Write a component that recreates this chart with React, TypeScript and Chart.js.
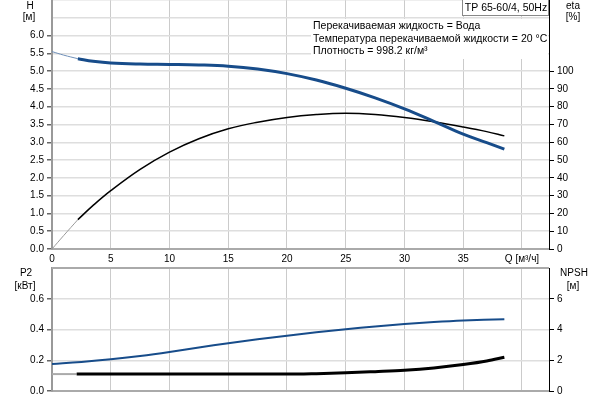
import React, { useEffect, useRef } from "react";
import { Chart, registerables } from "chart.js";

Chart.register(...registerables);

const FONT = "'Liberation Sans', Arial, sans-serif";

// ---- data ----
const qHeadStart = [0, 1, 2.2];
const headStart = [5.55, 5.45, 5.35];
const etaStart = [0, 7.6, 16.5];

const qMain = [2.2, 3.5, 5, 7.5, 10, 12.5, 15, 17.5, 20, 22.5, 25, 27.5, 30, 32.5, 35, 37, 38.5];
const headMain = [5.35, 5.28, 5.23, 5.2, 5.19, 5.175, 5.14, 5.06, 4.93, 4.75, 4.52, 4.25, 3.94, 3.59, 3.23, 2.99, 2.81];
const etaMain = [16.5, 24.5, 32.8, 44.8, 54.5, 62, 67.6, 71.3, 74, 75.6, 76.3, 75.6, 73.9, 71.5, 68.6, 66.0, 63.6];

const qPower = [0, 2.5, 5, 7.5, 10, 12.5, 15, 17.5, 20, 22.5, 25, 27.5, 30, 32.5, 35, 38.5];
const powerP2 = [0.176, 0.189, 0.206, 0.228, 0.254, 0.283, 0.311, 0.336, 0.36, 0.382, 0.402, 0.42, 0.435, 0.448, 0.458, 0.467];

const qNpshStart = [0, 2.1];
const npshStart = [1.1, 1.1];
const qNpsh = [2.1, 5, 10, 15, 20, 22.5, 25, 27.5, 30, 32.5, 35, 37, 38.5];
const npshMain = [1.1, 1.1, 1.1, 1.1, 1.1, 1.13, 1.18, 1.26, 1.35, 1.5, 1.72, 1.95, 2.2];

const xTickValues = [0, 5, 10, 15, 20, 25, 30, 35, 40];
const xTickLabels = ["0", "5", "10", "15", "20", "25", "30", "35", "Q [м³/ч]"];

const infoLines = [
  "Перекачиваемая жидкость = Вода",
  "Температура перекачиваемой жидкости = 20 °C",
  "Плотность = 998.2 кг/м³",
];
const pumpName = "TP 65-60/4, 50Hz";

const BLUE = "#174c8a";

const pts = (xs: number[], ys: number[]) => xs.map((x, i) => ({ x, y: ys[i] }));

const fixY = (w: number) => (s: any) => {
  s.width = w;
  s.paddingTop = 0;
  s.paddingBottom = 0;
};
const fixX = (h: number) => (s: any) => {
  s.height = h;
  s.paddingLeft = 0;
  s.paddingRight = 0;
};
const setXTicks = (s: any) => {
  s.ticks = xTickValues.map((v) => ({ value: v }));
};

const tickFont = { family: FONT, size: 10 };

export default function App() {
  const topRef = useRef<HTMLCanvasElement>(null);
  const botRef = useRef<HTMLCanvasElement>(null);

  useEffect(() => {
    Chart.defaults.font.family = FONT;
    Chart.defaults.font.size = 10;

    const topDecor = {
      id: "topDecor",
      beforeDatasetsDraw(chart: any) {
        const c = chart.ctx;
        c.save();
        c.fillStyle = "#fff";
        c.fillRect(311, 19, 237, 40);
        c.restore();
      },
      afterDraw(chart: any) {
        const c = chart.ctx;
        c.save();
        c.font = `10.5px ${FONT}`;
        c.fillStyle = "#000";
        c.textBaseline = "middle";
        c.textAlign = "left";
        infoLines.forEach((t, i) => c.fillText(t, 313, 26 + i * 12.7));
        c.fillStyle = "#fff";
        c.fillRect(462.5, 0, 86, 15);
        c.strokeStyle = "#888";
        c.lineWidth = 1;
        c.strokeRect(462.5, -1, 86, 16.5);
        c.fillStyle = "#000";
        c.textAlign = "center";
        c.fillText(pumpName, 506, 8);
        c.font = `10px ${FONT}`;
        c.fillText("H", 30, 6);
        c.fillText("[м]", 29, 17);
        c.fillText("eta", 573, 6);
        c.fillText("[%]", 573, 17);
        c.restore();
      },
    };

    const botDecor = {
      id: "botDecor",
      afterDraw(chart: any) {
        const c = chart.ctx;
        const a = chart.chartArea;
        c.save();
        c.strokeStyle = "#aaa";
        c.lineWidth = 2;
        c.beginPath();
        c.moveTo(a.left, a.top);
        c.lineTo(a.right, a.top);
        c.stroke();
        c.font = `10px ${FONT}`;
        c.fillStyle = "#000";
        c.textBaseline = "middle";
        c.textAlign = "center";
        c.fillText("P2", 26, 273 - 262);
        c.fillText("[кВт]", 25, 286 - 262);
        c.fillText("NPSH", 574, 273 - 262);
        c.fillText("[м]", 573, 286 - 262);
        c.restore();
      },
    };

    const common: any = {
      responsive: false,
      animation: false,
      events: [],
      layout: { padding: 0 },
      plugins: { legend: { display: false }, tooltip: { enabled: false } },
      elements: {
        point: { radius: 0 },
        line: { tension: 0.4, borderCapStyle: "butt" },
      },
    };

    const top = new Chart(topRef.current!, {
      type: "line",
      data: {
        datasets: [
          { data: pts(qMain, headMain), yAxisID: "h", borderColor: BLUE, borderWidth: 3 },
          { data: pts(qHeadStart, headStart), yAxisID: "h", borderColor: "#6f8fb8", borderWidth: 1 },
          { data: pts(qMain, etaMain), yAxisID: "eta", borderColor: "#000", borderWidth: 1.5 },
          { data: pts(qHeadStart, etaStart), yAxisID: "eta", borderColor: "#9a9a9a", borderWidth: 1 },
        ],
      },
      options: {
        ...common,
        scales: {
          x: {
            type: "linear",
            min: 0,
            max: 42.3,
            afterBuildTicks: setXTicks,
            afterFit: fixX(19),
            ticks: {
              font: tickFont,
              color: "#000",
              padding: 4,
              maxRotation: 0,
              autoSkip: false,
              callback: (v: any) => {
                const i = xTickValues.indexOf(Number(v));
                return i >= 0 ? xTickLabels[i] : "";
              },
            },
            grid: { color: "#cbcbcb", lineWidth: 1, drawTicks: false },
            border: { color: "#aaa", width: 2 },
          },
          h: {
            type: "linear",
            position: "left",
            min: 0,
            max: 7,
            afterFit: fixY(52),
            ticks: {
              stepSize: 0.5,
              font: tickFont,
              color: "#000",
              padding: 3,
              callback: (v: any) => (Number(v) <= 6.01 ? Number(v).toFixed(1) : ""),
            },
            grid: {
              color: "#dedede",
              lineWidth: 1.5,
              tickLength: 5,
              tickColor: (ctx: any) => (ctx.tick && ctx.tick.value > 6.01 ? "rgba(0,0,0,0)" : "#666"),
            },
            border: { color: "#999", width: 2 },
          },
          eta: {
            type: "linear",
            position: "right",
            min: 0,
            max: 140,
            afterFit: fixY(51),
            ticks: {
              stepSize: 10,
              font: tickFont,
              color: "#000",
              padding: 3,
              callback: (v: any) => (Number(v) <= 100 ? String(v) : ""),
            },
            grid: {
              drawOnChartArea: false,
              tickLength: 5,
              tickColor: (ctx: any) => (ctx.tick && ctx.tick.value > 100 ? "rgba(0,0,0,0)" : "#000"),
            },
            border: { color: "#000", width: 1 },
          },
        },
      },
      plugins: [topDecor],
    } as any);

    const bot = new Chart(botRef.current!, {
      type: "line",
      data: {
        datasets: [
          { data: pts(qPower, powerP2), yAxisID: "p2", borderColor: BLUE, borderWidth: 2 },
          {
            data: pts(qNpsh, npshMain),
            yAxisID: "npsh",
            borderColor: "#000",
            borderWidth: 3,
            cubicInterpolationMode: "monotone",
          },
          { data: pts(qNpshStart, npshStart), yAxisID: "npsh", borderColor: "#aaa", borderWidth: 2 },
        ],
      },
      options: {
        ...common,
        layout: { padding: { top: 6 } },
        scales: {
          x: {
            type: "linear",
            min: 0,
            max: 42.3,
            afterBuildTicks: setXTicks,
            afterFit: fixX(9),
            ticks: { display: false },
            grid: { color: "#cbcbcb", lineWidth: 1, drawTicks: false },
            border: { color: "#aaa", width: 2 },
          },
          p2: {
            type: "linear",
            position: "left",
            min: 0,
            max: 0.8,
            afterFit: fixY(52),
            ticks: {
              stepSize: 0.2,
              font: tickFont,
              color: "#000",
              padding: 3,
              callback: (v: any) => (Number(v) <= 0.61 ? Number(v).toFixed(1) : ""),
            },
            grid: {
              color: "#dedede",
              lineWidth: 1.5,
              tickLength: 5,
              tickColor: (ctx: any) => (ctx.tick && ctx.tick.value > 0.61 ? "rgba(0,0,0,0)" : "#666"),
            },
            border: { color: "#999", width: 2 },
          },
          npsh: {
            type: "linear",
            position: "right",
            min: 0,
            max: 8,
            afterFit: fixY(51),
            ticks: {
              stepSize: 2,
              font: tickFont,
              color: "#000",
              padding: 3,
              callback: (v: any) => (Number(v) <= 6.01 ? String(v) : ""),
            },
            grid: {
              drawOnChartArea: false,
              tickLength: 5,
              tickColor: (ctx: any) => (ctx.tick && ctx.tick.value > 6.01 ? "rgba(0,0,0,0)" : "#000"),
            },
            border: { color: "#000", width: 1 },
          },
        },
      },
      plugins: [botDecor],
    } as any);

    return () => {
      top.destroy();
      bot.destroy();
    };
  }, []);

  return (
    <div style={{ position: "absolute", left: 0, top: 0, width: 600, height: 400, background: "#fff" }}>
      <canvas ref={topRef} width={600} height={268} style={{ position: "absolute", left: 0, top: 0 }} />
      <canvas ref={botRef} width={600} height={138} style={{ position: "absolute", left: 0, top: 262 }} />
    </div>
  );
}
